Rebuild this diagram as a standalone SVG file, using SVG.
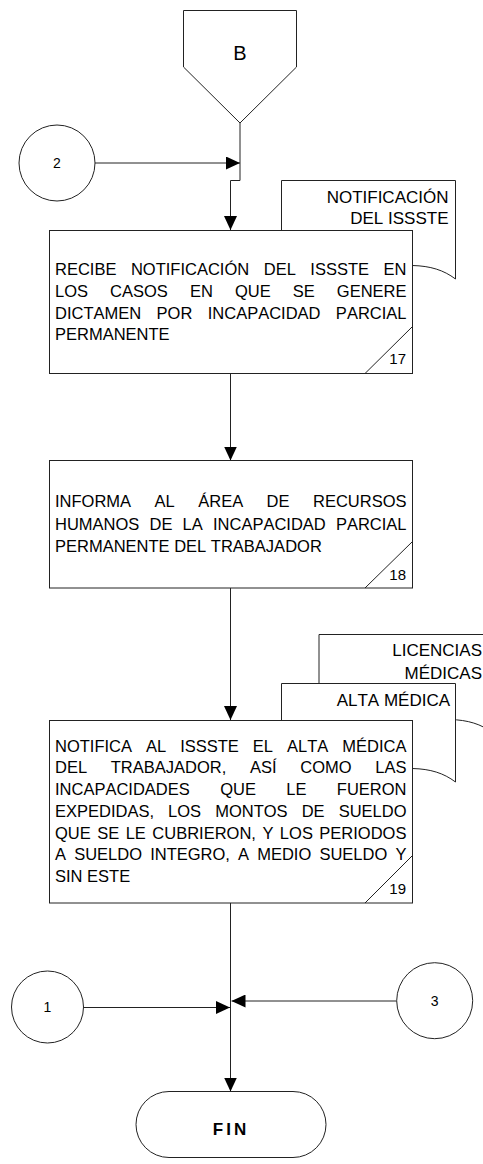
<svg xmlns="http://www.w3.org/2000/svg" width="483" height="1164" viewBox="0 0 483 1164">
<style>
.shape{fill:#fff;stroke:#222;stroke-width:1}
.line{fill:none;stroke:#222;stroke-width:1}
.t{font-family:"Liberation Sans",Arial,sans-serif;font-size:16.5px;fill:#000;font-kerning:none}
.d{font-family:"Liberation Sans",Arial,sans-serif;font-size:17px;fill:#000;text-anchor:end;font-kerning:none}
.n{font-family:"Liberation Sans",Arial,sans-serif;font-size:15px;fill:#000;text-anchor:end}
.c{font-family:"Liberation Sans",Arial,sans-serif;font-size:14px;fill:#000;text-anchor:middle}
</style>
<defs>
<marker id="arr" markerUnits="userSpaceOnUse" markerWidth="14" markerHeight="13" refX="14" refY="6.5" orient="auto">
<path d="M0,0 L14,6.5 L0,13 Z" fill="#000"/>
</marker>
</defs>
<rect width="483" height="1164" fill="#fff"/>

<g id="connectors">
<path class="line" d="M240,123 V180.5 H230.5 V230" marker-end="url(#arr)"/>
<path class="line" d="M95,163 H240" marker-end="url(#arr)"/>
<path class="line" d="M230.5,373.5 V460.5" marker-end="url(#arr)"/>
<path class="line" d="M230.5,588 V720" marker-end="url(#arr)"/>
<path class="line" d="M230.5,903 V1091.5" marker-end="url(#arr)"/>
<path class="line" d="M83.5,1007.5 H230" marker-end="url(#arr)"/>
<path class="line" d="M396.7,1001 H231.5" marker-end="url(#arr)"/>
</g>

<g id="offpage-B">
<path class="shape" d="M183.5,10.5 H296.5 V67 L240,123 L183.5,67 Z"/>
<text x="240" y="60" font-family="Liberation Sans, Arial, sans-serif" font-size="20" text-anchor="middle">B</text>
</g>

<g id="connector-2">
<circle class="shape" cx="57" cy="163" r="38"/>
<text class="c" x="57" y="168">2</text>
</g>

<g id="doc-notificacion">
<path class="shape" d="M281.5,180.5 H455.5 V279 C443.5,270 430.5,266 412.5,265.5 C376,265 330,277 281.5,282 Z"/>
<text class="d" x="448.5" y="202.5">NOTIFICACIÓN</text>
<text class="d" x="448.5" y="224">DEL ISSSTE</text>
</g>

<g id="step-17">
<rect class="shape" x="49.5" y="230.5" width="363" height="143"/>
<path class="line" d="M365,373.5 L412.5,326.5"/>
<text class="t" x="55" y="275" word-spacing="9.94">RECIBE NOTIFICACIÓN DEL ISSSTE EN</text>
<text class="t" x="55" y="296.8" word-spacing="17.49">LOS CASOS EN QUE SE GENERE</text>
<text class="t" x="55" y="318.6" word-spacing="10.81">DICTAMEN POR INCAPACIDAD PARCIAL</text>
<text class="t" x="55" y="340.4">PERMANENTE</text>
<text class="n" x="406" y="364">17</text>
</g>

<g id="step-18">
<rect class="shape" x="49.5" y="460.5" width="363" height="127.5"/>
<path class="line" d="M365,588 L412.5,541.5"/>
<text class="t" x="55" y="507.3" word-spacing="18.89">INFORMA AL ÁREA DE RECURSOS</text>
<text class="t" x="55" y="529.6" word-spacing="5.59">HUMANOS DE LA INCAPACIDAD PARCIAL</text>
<text class="t" x="55" y="552.2">PERMANENTE DEL TRABAJADOR</text>
<text class="n" x="406" y="580">18</text>
</g>

<g id="doc-licencias">
<path class="shape" d="M319,634.5 H493 V733 C481,724 468,720 450,719.5 C413.5,719 367.5,731 319,736 Z"/>
<text class="d" x="482" y="656">LICENCIAS</text>
<text class="d" x="482" y="679">MÉDICAS</text>
</g>

<g id="doc-alta">
<path class="shape" d="M281.5,683.5 H455.5 V782 C443.5,773 430.5,769 412.5,768.5 C376,768 330,780 281.5,785 Z"/>
<text class="d" x="450" y="705.7">ALTA MÉDICA</text>
</g>

<g id="step-19">
<rect class="shape" x="49.5" y="720.5" width="363" height="182.5"/>
<path class="line" d="M365,903 L412.5,855.5"/>
<text class="t" x="55" y="751.7" word-spacing="9.41">NOTIFICA AL ISSSTE EL ALTA MÉDICA</text>
<text class="t" x="55" y="773.4" word-spacing="19.11">DEL TRABAJADOR, ASÍ COMO LAS</text>
<text class="t" x="55" y="795.1" word-spacing="25.78">INCAPACIDADES QUE LE FUERON</text>
<text class="t" x="55" y="816.8" word-spacing="9.49">EXPEDIDAS, LOS MONTOS DE SUELDO</text>
<text class="t" x="55" y="838.5" word-spacing="1.88">QUE SE LE CUBRIERON, Y LOS PERIODOS</text>
<text class="t" x="55" y="860.2" word-spacing="3.56">A SUELDO INTEGRO, A MEDIO SUELDO Y</text>
<text class="t" x="55" y="881.9">SIN ESTE</text>
<text class="n" x="406" y="893.5">19</text>
</g>

<g id="connector-1">
<circle class="shape" cx="47.5" cy="1007" r="36"/>
<text class="c" x="47.5" y="1012">1</text>
</g>

<g id="connector-3">
<circle class="shape" cx="434.7" cy="1000.7" r="38"/>
<text class="c" x="434.7" y="1005.5">3</text>
</g>

<g id="terminator-fin">
<rect class="shape" x="136" y="1091.5" width="190" height="66" rx="33" ry="33"/>
<text x="231" y="1135" font-family="Liberation Sans, Arial, sans-serif" font-size="17" font-weight="bold" letter-spacing="3" text-anchor="middle">FIN</text>
</g>
</svg>
